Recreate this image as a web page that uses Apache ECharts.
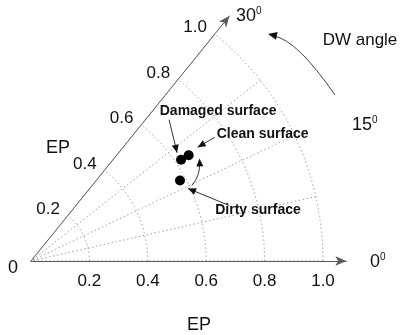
<!DOCTYPE html>
<html><head><meta charset="utf-8">
<script src="https://cdn.jsdelivr.net/npm/echarts@6/dist/echarts.min.js"></script>
<style>html,body{margin:0;padding:0;background:#fff}#c{width:401px;height:335px}</style>
</head><body><div id="c"></div>
<script>
// ---- data ----
const radiusTicks = [0, 0.2, 0.4, 0.6, 0.8, 1.0];
const angleTicks = [0, 15, 30];
const surfaceNames = ['Damaged surface', 'Clean surface', 'Dirty surface'];
const surfaceEP = [0.62, 0.65, 0.58];
const surfaceAngle = [20.0, 19.9, 16.7];
const axisTitle = 'EP';
const angleTitle = 'DW angle';

// ---- layout ----
const CX = 31, CY = 261, R = 292, EXT = 1.08, A_END = 51;
const FONT = '"Liberation Sans", Arial, sans-serif';
const AXIS_COLOR = '#5a5a5a', GRID_COLOR = '#a0a0a0';

const chart = echarts.init(document.getElementById('c'), null, {renderer: 'canvas'});

function angleAxis(idx, start, showSplit) {
  return {
    polarIndex: idx, type: 'value', min: 0, max: 30, interval: 7.5,
    startAngle: start, endAngle: start + A_END, clockwise: false,
    axisLine: {show: false}, axisTick: {show: false}, axisLabel: {show: false},
    splitLine: {show: showSplit, lineStyle: {color: GRID_COLOR, type: [1.5, 2.5], width: 1}}
  };
}
const tickFmt = v => (radiusTicks.indexOf(Math.round(v * 10) / 10) > 0 && Math.abs(v - Math.round(v * 10) / 10) < 1e-6) ? v.toFixed(1) : '';

const option = {
  animation: false,
  backgroundColor: '#fff',
  polar: [
    {center: [CX, CY], radius: R},
    {center: [CX, CY], radius: R * EXT},
    {center: [CX, CY], radius: R * EXT}
  ],
  angleAxis: [angleAxis(0, 0, true), angleAxis(1, 0, false), angleAxis(2, A_END, false)],
  radiusAxis: [
    {polarIndex: 0, type: 'value', min: 0, max: 1, interval: 0.2,
     axisLine: {show: false}, axisTick: {show: false}, axisLabel: {show: false},
     splitLine: {show: true, lineStyle: {color: GRID_COLOR, type: [1.5, 2.5], width: 1}}},
    {polarIndex: 1, type: 'value', min: 0, max: EXT, interval: 0.2,
     axisLine: {show: true, symbol: ['none', 'arrow'], symbolSize: [7, 11], lineStyle: {color: AXIS_COLOR, width: 1}},
     axisTick: {show: false}, splitLine: {show: false},
     axisLabel: {show: true, formatter: tickFmt, margin: -12, verticalAlign: 'top', color: '#111', fontSize: 17, fontFamily: FONT}},
    {polarIndex: 2, type: 'value', min: 0, max: EXT, interval: 0.2,
     axisLine: {show: true, symbol: ['none', 'arrow'], symbolSize: [7, 11], lineStyle: {color: AXIS_COLOR, width: 1}},
     axisTick: {show: false}, splitLine: {show: false},
     axisLabel: {show: true, formatter: tickFmt, margin: 10, color: '#111', fontSize: 17, fontFamily: FONT}}
  ],
  series: [{
    type: 'scatter', coordinateSystem: 'polar', polarIndex: 0,
    data: surfaceEP.map((r, i) => ({name: surfaceNames[i], value: [r, surfaceAngle[i]]})),
    symbol: 'circle', symbolSize: 10, itemStyle: {color: '#000', opacity: 1}, z: 10
  }]
};
chart.setOption(option);

// ---- annotations anchored to the data points ----
const px = i => chart.convertToPixel({seriesIndex: 0}, [surfaceEP[i], surfaceAngle[i]]);
const P = [px(0), px(1), px(2)];
const els = [];
function txt(x, y, s, size, bold, align) {
  els.push({type: 'text', x: x, y: y, z: 20, style: {text: s, fill: '#111',
    font: (bold ? 'bold ' : '') + size + 'px ' + FONT, align: align || 'center', verticalAlign: 'middle'}});
}
function supTxt(x, y, base) {
  els.push({type: 'text', x: x, y: y, z: 20, style: {text: '{b|' + base + '}{s|0}', align: 'left', verticalAlign: 'middle',
    rich: {b: {font: '18px ' + FONT, fill: '#111'}, s: {font: '10px ' + FONT, fill: '#111', verticalAlign: 'top', padding: [0, 0, 9, 0]}}}});
}
function head(x, y, dx, dy, len, w) {
  const L = Math.hypot(dx, dy), ux = dx / L, uy = dy / L;
  const bx = x - ux * len, by = y - uy * len;
  els.push({type: 'polygon', z: 20, shape: {points: [[x, y], [bx - uy * w, by + ux * w], [bx + uy * w, by - ux * w]]}, style: {fill: '#111'}});
}
function arrow(x1, y1, x2, y2) {
  els.push({type: 'line', z: 20, shape: {x1: x1, y1: y1, x2: x2, y2: y2}, style: {stroke: '#333', lineWidth: 1}});
  head(x2, y2, x2 - x1, y2 - y1, 8, 3.5);
}
// Damaged
arrow(P[0][0] - 12, P[0][1] - 40, P[0][0] - 4, P[0][1] - 7);
txt(P[0][0] + 37, P[0][1] - 49, surfaceNames[0], 14, true);
// Clean
arrow(P[1][0] + 26, P[1][1] - 18, P[1][0] + 9, P[1][1] - 8);
txt(P[1][0] + 74, P[1][1] - 21, surfaceNames[1], 14, true);
// Dirty
arrow(P[2][0] + 49, P[2][1] + 25, P[2][0] + 8, P[2][1] + 8);
txt(P[2][0] + 78, P[2][1] + 30, surfaceNames[2], 14, true);
// curved arrow from dirty toward damaged/clean
const cs = [P[2][0] + 12, P[2][1] + 5], ce = [P[2][0] + 19.5, P[2][1] - 16], cc = [P[2][0] + 20, P[2][1] - 5];
els.push({type: 'bezierCurve', z: 20, shape: {x1: cs[0], y1: cs[1], x2: ce[0], y2: ce[1], cpx1: cc[0], cpy1: cc[1]}, style: {stroke: '#333', lineWidth: 1, fill: null}});
head(ce[0], ce[1] - 6, ce[0] - cc[0], ce[1] - cc[1], 8, 3.5);

// axis titles and angle labels
txt(13, 268, String(radiusTicks[0]), 18, false);
txt(58, 148, axisTitle, 18, false);
txt(199, 325, axisTitle, 18, false);
supTxt(370, 262, String(angleTicks[0]));
supTxt(352, 125, String(angleTicks[1]));
supTxt(236, 16, String(angleTicks[2]));
txt(360, 40, angleTitle, 17, false);
// DW angle curved arrow
els.push({type: 'bezierCurve', z: 20, shape: {x1: 335, y1: 95, x2: 274, y2: 36, cpx1: 297, cpy1: 40}, style: {stroke: '#444', lineWidth: 1, fill: null}});
head(268, 34, -24, -5, 9, 4);

chart.setOption({graphic: {elements: els}});
</script>
</body></html>
